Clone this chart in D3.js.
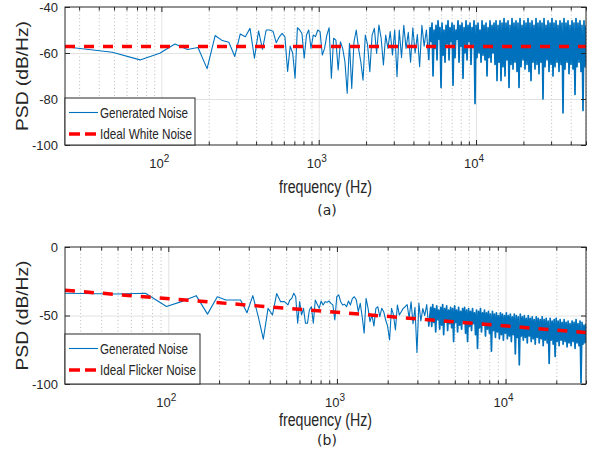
<!DOCTYPE html>
<html>
<head>
<meta charset="utf-8">
<script src="https://cdn.jsdelivr.net/npm/d3@7"></script>
<style>
body { margin: 0; background: #fff; }
svg { display: block; font-family: 'Liberation Sans', Arial, sans-serif; }
</style>
</head>
<body>
<script>
// FFT bin width (Hz) of the low-frequency part, both plots
var binHz = 24.4;
var xDecades = [100, 1000, 10000];

// (a) white noise: first bins, then the busier middle, then the dense band (hi/lo read per pixel column)
var lowA = [-57.3, -59.7, -63, -60.1, -56.1, -58.5, -57.6, -66.8, -52.4, -54.6, -55.3, -61.5, -51.7, -52.9, -49.3,
  -62.3, -50.4, -58.4, -50, -50, -50.5, -55.5, -53, -51.5, -53, -68, -57, -60, -71, -49];
var midRangeA = [757, 5000];
var midA = [-50, -51.5, -62.3, -52.2, -50, -58, -52.2, -52.9, -50, -50.7, -60.9, -58, -52.2, -49, -71, -53.6,
  -54.4, -67.4, -55.1, -58, -63.8, -77.5, -55.8, -75.4, -55.1, -50, -58, -63.8, -71.8, -52.2, -56.5, -68.1,
  -52.2, -49.3, -60.2, -47.8, -53.6, -65.2, -52.2, -58, -50.7, -60.9, -50, -70.3, -50, -62, -48, -58, -51,
  -64, -49, -60, -52, -66, -48, -57, -50, -63];
var denseRangeA = [5100, 50000];
var denseA = [
  -49, -55, -47, -70, -50, -58, -48, -63, -46, -54,
  -49, -75, -47, -61, -50, -64, -48, -56, -46, -63,
  -49, -55, -47, -74, -48, -62, -50, -54, -46, -64,
  -48, -57, -47, -71, -49, -60, -46, -63, -48, -55,
  -47, -65, -49, -56, -46, -82, -48, -62, -47, -60,
  -50, -64, -46, -61, -48, -63, -47, -70, -49, -62,
  -46, -64, -48, -60, -47, -65, -46, -72, -48, -64,
  -46, -72, -47, -66, -45, -70, -47, -63, -46, -75,
  -48, -65, -45, -67, -47, -64, -46, -68, -47, -75,
  -45, -66, -48, -63, -46, -67, -47, -65, -45, -68,
  -47, -72, -46, -64, -48, -67, -45, -65, -47, -69,
  -46, -64, -47, -80, -45, -66, -48, -63, -46, -68,
  -47, -65, -45, -70, -47, -66, -46, -64, -48, -68,
  -46, -65, -47, -86, -45, -67, -47, -64, -46, -69,
  -48, -65, -46, -67, -47, -78, -45, -66, -47, -64,
  -46, -68, -48, -85, -46, -66, -48];
var idealWhiteF = [24.4, 50000];
var idealWhiteV = [-57.2, -57.2];
var yTicksA = [-100, -80, -60, -40];
var legendA = ['Generated Noise', 'Ideal White Noise'];

// (b) flicker noise
var lowB = [-33.8, -34.3, -33.8, -43.4, -39.5, -35.5, -49, -36.3, -38.7, -38.7, -38.7, -48, -35.5, -50.9, -67.3,
  -44.8, -49.6, -34, -39.9, -39.9];
var midRangeB = [512, 3500];
var midB = [-42.3, -38.7, -37.5, -33.8, -36.3, -55.7, -39.9, -49.6, -44.8, -55.7, -55.7, -46, -43.6, -55.7, -38.7,
  -41.8, -44.8, -39.4, -42.3, -39.9, -40.4, -39.4, -41.1, -42.3, -53.3, -36.3, -35, -39.9, -42.3, -41.8, -43.6,
  -39.4, -42.3, -37.5, -36.3, -38.7, -47.2, -41.1, -50.9, -63, -37.5, -44.8, -54.5, -49.6, -57.7, -44.8, -43.6,
  -50.9, -44.8, -47.2, -53.3, -57.7, -67.9, -44.8, -49.6, -60.6, -42.3, -49.6, -47.2, -44.8, -43.6, -42, -52,
  -40, -56, -44, -77, -41, -54, -45, -50, -42, -58];
var denseRangeB = [3600, 30000];
var denseB = [
  -44, -58, -42, -55, -45, -62, -43, -53, -46, -60,
  -44, -57, -42, -64, -45, -54, -43, -61, -46, -56,
  -44, -59, -45, -69, -43, -55, -46, -62, -44, -57,
  -47, -60, -45, -54, -44, -63, -46, -69, -45, -58,
  -47, -61, -45, -56, -48, -64, -46, -74, -47, -59,
  -45, -62, -48, -57, -46, -65, -48, -60, -47, -63,
  -49, -76, -47, -61, -49, -66, -48, -62, -50, -67,
  -48, -64, -49, -68, -50, -63, -48, -67, -50, -65,
  -49, -69, -51, -64, -49, -78, -50, -66, -51, -86,
  -49, -65, -51, -68, -50, -66, -52, -70, -50, -65,
  -52, -69, -51, -67, -53, -71, -51, -66, -52, -70,
  -53, -67, -51, -72, -53, -68, -52, -70, -54, -85,
  -52, -68, -54, -71, -53, -80, -52, -69, -54, -72,
  -53, -68, -55, -71, -53, -69, -55, -73, -54, -70,
  -56, -72, -54, -69, -55, -74, -53, -70, -56, -72,
  -54, -99, -55, -71, -57, -70, -56];
var idealFlickerF = [24.4, 30000];
var idealFlickerV = [-31.6, -62.4];
var yTicksB = [-100, -50, 0];
var legendB = ['Generated Noise', 'Ideal Flicker Noise'];

// low part sits on FFT bins, the read columns are spread evenly (log) over their span
function spread(vals, r) {
  return vals.map(function (v, i) {
    return {f: r[0] * Math.pow(r[1] / r[0], i / (vals.length - 1)), v: v};
  });
}
function buildSeries(low, mid, midRange, dense, denseRange) {
  var main = low.map(function (v, i) { return {f: (i + 1) * binHz, v: v}; })
    .concat(spread(mid, midRange));
  // the dense band starts where the middle part ends so the trace stays joined
  var band = [main[main.length - 1]].concat(spread(dense, denseRange));
  return {main: main, band: band};
}

var seriesA = buildSeries(lowA, midA, midRangeA, denseA, denseRangeA);
var seriesB = buildSeries(lowB, midB, midRangeB, denseB, denseRangeB);

var left = 65, right = 586;
var blue = '#0072bd', ink = '#262626';

var svg = d3.select('body').append('svg')
  .attr('width', 597)
  .attr('height', 460);

var panels = [
  {id: 'a', top: 7, bottom: 145, fMax: 50000, yMax: -40, yTicks: yTicksA, series: seriesA,
   idealF: idealWhiteF, idealV: idealWhiteV, legend: legendA, legTop: 98, legW: 130, xLabelY: 193, capY: 214.5},
  {id: 'b', top: 247, bottom: 384, fMax: 30000, yMax: 0, yTicks: yTicksB, series: seriesB,
   idealF: idealFlickerF, idealV: idealFlickerV, legend: legendB, legTop: 334, legW: 135, xLabelY: 426, capY: 445}
];

panels.forEach(drawPanel);

function drawPanel(p) {
  var h = p.bottom - p.top;
  var x = d3.scaleLog().domain([binHz, p.fMax]).range([left, right]);
  var y = d3.scaleLinear().domain([-100, p.yMax]).range([p.bottom, p.top]);
  var isDecade = function (d) { return Math.abs(Math.log10(d) - Math.round(Math.log10(d))) < 1e-9; };
  var minor = x.ticks().filter(function (d) { return !isDecade(d); });

  var g = svg.append('g');

  // minor (dotted) and major grid
  g.append('g')
    .attr('transform', 'translate(0,' + p.bottom + ')')
    .call(d3.axisBottom(x).tickValues(minor).tickSize(-h).tickFormat(''))
    .call(function (s) { s.select('.domain').remove(); })
    .selectAll('line').attr('stroke', '#bdbdbd').attr('stroke-dasharray', '1,2.5');
  g.append('g')
    .attr('transform', 'translate(0,' + p.bottom + ')')
    .call(d3.axisBottom(x).tickValues(xDecades).tickSize(-h).tickFormat(''))
    .call(function (s) { s.select('.domain').remove(); })
    .selectAll('line').attr('stroke', '#e2e2e2');
  g.append('g')
    .attr('transform', 'translate(' + left + ',0)')
    .call(d3.axisLeft(y).tickValues(p.yTicks.slice(1, -1)).tickSize(-(right - left)).tickFormat(''))
    .call(function (s) { s.select('.domain').remove(); })
    .selectAll('line').attr('stroke', '#e2e2e2');

  // traces
  g.append('clipPath').attr('id', 'clip' + p.id)
    .append('rect').attr('x', left).attr('y', p.top).attr('width', right - left).attr('height', h);

  var line = d3.line()
    .x(function (d) { return x(d.f); })
    .y(function (d) { return y(d.v); });

  g.append('path')
    .datum(p.series.main)
    .attr('clip-path', 'url(#clip' + p.id + ')')
    .attr('d', line)
    .attr('fill', 'none')
    .attr('stroke', blue)
    .attr('stroke-width', 1.1)
    .attr('stroke-linejoin', 'round');

  // thousands of bins squeeze in here, so the pen is a bit wider
  g.append('path')
    .datum(p.series.band)
    .attr('clip-path', 'url(#clip' + p.id + ')')
    .attr('d', line)
    .attr('fill', 'none')
    .attr('stroke', blue)
    .attr('stroke-width', 1.7)
    .attr('stroke-linejoin', 'round');

  var ideal = p.idealF.map(function (f, i) { return {f: f, v: p.idealV[i]}; });
  g.append('path')
    .datum(ideal)
    .attr('d', line)
    .attr('fill', 'none')
    .attr('stroke', '#ff0000')
    .attr('stroke-width', 3.5)
    .attr('stroke-dasharray', '10,9');

  // box
  g.append('rect')
    .attr('x', left).attr('y', p.top)
    .attr('width', right - left).attr('height', h)
    .attr('fill', 'none').attr('stroke', ink).attr('stroke-width', 1);

  // inward ticks on all four sides
  var tick = function (axis) {
    return function (s) {
      s.call(axis);
      s.select('.domain').remove();
      s.selectAll('line').attr('stroke', ink);
    };
  };
  g.append('g').attr('transform', 'translate(0,' + p.bottom + ')')
    .call(tick(d3.axisBottom(x).tickValues(minor).tickSize(-3.5).tickFormat('')));
  g.append('g').attr('transform', 'translate(0,' + p.bottom + ')')
    .call(tick(d3.axisBottom(x).tickValues(xDecades).tickSize(-5).tickFormat('')));
  g.append('g').attr('transform', 'translate(0,' + p.top + ')')
    .call(tick(d3.axisTop(x).tickValues(minor).tickSize(-3.5).tickFormat('')));
  g.append('g').attr('transform', 'translate(0,' + p.top + ')')
    .call(tick(d3.axisTop(x).tickValues(xDecades).tickSize(-5).tickFormat('')));
  g.append('g').attr('transform', 'translate(' + right + ',0)')
    .call(tick(d3.axisRight(y).tickValues(p.yTicks).tickSize(-5).tickFormat('')));

  var yAxis = g.append('g').attr('transform', 'translate(' + left + ',0)')
    .call(tick(d3.axisLeft(y).tickValues(p.yTicks).tickSize(-5).tickPadding(7)
      .tickFormat(function (d) { return String(d); })));
  yAxis.selectAll('text')
    .attr('font-family', "'Liberation Sans', Arial, sans-serif")
    .attr('font-size', 13)
    .attr('fill', ink);

  // 10^n labels
  g.selectAll('.xlab')
    .data(xDecades)
    .enter()
    .append('text')
      .attr('class', 'xlab')
      .attr('x', function (d) { return x(d) - 2; })
      .attr('y', p.bottom + 23)
      .attr('text-anchor', 'middle')
      .attr('font-size', 13)
      .attr('fill', ink)
      .text('10')
      .append('tspan')
        .attr('dy', -6)
        .attr('font-size', 10)
        .text(function (d) { return Math.round(Math.log10(d)); });

  // axis titles
  g.append('text')
    .attr('text-anchor', 'middle')
    .attr('transform', 'translate(22,' + ((p.top + p.bottom) / 2) + ')rotate(-90)')
    .attr('dy', '0.35em')
    .attr('font-size', 16)
    .attr('textLength', 110)
    .attr('lengthAdjust', 'spacingAndGlyphs')
    .attr('fill', ink)
    .text('PSD (dB/Hz)');

  g.append('text')
    .attr('x', 279).attr('y', p.xLabelY)
    .attr('font-size', 18)
    .attr('textLength', 93)
    .attr('lengthAdjust', 'spacingAndGlyphs')
    .attr('fill', ink)
    .text('frequency (Hz)');

  g.append('text')
    .attr('x', 327).attr('y', p.capY)
    .attr('text-anchor', 'middle')
    .attr('font-family', "'DejaVu Sans', sans-serif")
    .attr('font-size', 14)
    .attr('fill', ink)
    .text('(' + p.id + ')');

  // legend
  var lg = g.append('g');
  lg.append('rect')
    .attr('x', left).attr('y', p.legTop)
    .attr('width', p.legW).attr('height', p.bottom - p.legTop)
    .attr('fill', '#fff').attr('stroke', ink).attr('stroke-width', 1);
  var row1 = p.legTop + 14.5, row2 = p.legTop + 36;
  lg.append('line')
    .attr('x1', 69).attr('x2', 98).attr('y1', row1).attr('y2', row1)
    .attr('stroke', blue).attr('stroke-width', 1.1);
  lg.append('line')
    .attr('x1', 69).attr('x2', 98).attr('y1', row2).attr('y2', row2)
    .attr('stroke', '#ff0000').attr('stroke-width', 3.5).attr('stroke-dasharray', '11,5');
  lg.selectAll('.legtext')
    .data(p.legend)
    .enter()
    .append('text')
      .attr('class', 'legtext')
      .attr('x', 100)
      .attr('y', function (d, i) { return (i ? row2 : row1) + 5; })
      .attr('font-size', 15)
      .attr('textLength', function (d, i) { return i ? (p.id === 'a' ? 92 : 96) : 88; })
      .attr('lengthAdjust', 'spacingAndGlyphs')
      .attr('fill', ink)
      .text(function (d) { return d; });
}
</script>
</body>
</html>
